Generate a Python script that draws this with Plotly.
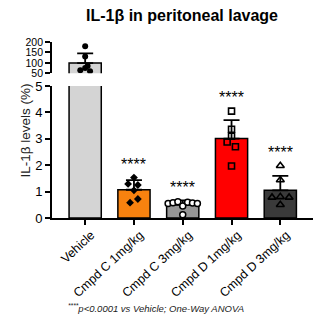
import numpy as np
import plotly.graph_objects as go

# Groups and individual measurements (IL-1β, % of vehicle)
groups = ["Vehicle", "Cmpd C 1mg/kg", "Cmpd C 3mg/kg", "Cmpd D 1mg/kg", "Cmpd D 3mg/kg"]
vehicle_pts = [180, 130, 85, 65, 60, 75]
cmpd_c1_pts = [1.53, 1.29, 1.25, 1.05, 0.58, 0.72]
cmpd_c3_pts = [0.55, 0.58, 0.62, 0.45, 0.60, 0.57, 0.55, 0.12]
cmpd_d1_pts = [4.05, 3.36, 3.10, 2.88, 2.70, 1.97]
cmpd_d3_pts = [1.98, 1.44, 0.78, 0.80, 0.78, 0.50]
signif = ["", "****", "****", "****", "****"]

points = [vehicle_pts, cmpd_c1_pts, cmpd_c3_pts, cmpd_d1_pts, cmpd_d3_pts]

# horizontal scatter of points inside each bar
jitter = [
    [0, 0, 0.05, -0.1, 0.1, 0],
    [0, -0.12, 0.08, 0, -0.08, 0.08],
    [-0.3, -0.2, -0.1, 0, 0.1, 0.2, 0.3, 0],
    [0, 0, 0, -0.09, 0.08, 0],
    [0, 0, -0.17, 0, 0.18, 0],
]
bar_colors = ["#d4d4d4", "#f7820f", "#969696", "#ff0000", "#3a3a3a"]
marker_styles = [
    dict(symbol="circle", color="black", size=6),
    dict(symbol="diamond", color="black", size=6),
    dict(symbol="circle", color="white", size=6, line=dict(color="black", width=1.5)),
    dict(symbol="square-open", color="black", size=6, line=dict(width=1.6)),
    dict(symbol="triangle-up-open", color="black", size=7, line=dict(width=1.6)),
]

means = [float(np.mean(p)) for p in points]
sds = [float(np.std(p, ddof=1)) for p in points]
xs = list(range(len(groups)))

FONT = "Liberation Sans, Arial, sans-serif"
fig = go.Figure()

for yax in ("y", "y2"):
    fig.add_trace(go.Bar(
        x=xs, y=means, width=0.66, yaxis=yax,
        marker=dict(color=bar_colors, line=dict(color="black", width=1.5)),
        showlegend=False, hoverinfo="skip",
    ))
    fig.add_trace(go.Scatter(
        x=xs, y=means, mode="markers", yaxis=yax,
        marker=dict(size=1, color="rgba(0,0,0,0)"),
        error_y=dict(type="data", array=sds, arrayminus=[0] * len(sds), symmetric=False,
                     color="black", thickness=1.8, width=8),
        showlegend=False, hoverinfo="skip",
    ))
    for i, pts in enumerate(points):
        fig.add_trace(go.Scatter(
            x=[i + j for j in jitter[i]], y=pts, mode="markers", yaxis=yax,
            marker=marker_styles[i], showlegend=False,
        ))

annotations = []
for i, s in enumerate(signif):
    if s:
        top = max(max(points[i]), means[i] + sds[i])
        annotations.append(dict(x=i, y=top + 0.5, xref="x", yref="y", text=s,
                                showarrow=False, font=dict(family=FONT, size=16, color="black")))

annotations.append(dict(x=-0.138, y=0.5, xref="paper", yref="paper", text="IL-1β levels (%)",
                        textangle=-90, showarrow=False,
                        font=dict(family=FONT, size=13.5, color="#222222")))
annotations.append(dict(x=0.398, y=-0.557, xref="paper", yref="paper",
                        text="<i><sup>****</sup>p<0.0001 vs Vehicle; One-Way ANOVA</i>",
                        showarrow=False, font=dict(family=FONT, size=9.5, color="#222222")))

axis_common = dict(showline=True, linecolor="black", linewidth=1.8, ticks="outside",
                   ticklen=5, tickwidth=1.5, tickcolor="black", showgrid=False, zeroline=False)

fig.update_layout(
    width=323, height=326,
    margin=dict(l=52, r=10, t=42, b=108),
    paper_bgcolor="white", plot_bgcolor="white",
    title=dict(text="<b>IL-1β in peritoneal lavage</b>", x=182 / 323, y=1 - 15 / 326,
               xanchor="center", yanchor="middle", font=dict(family=FONT, size=16, color="black")),
    xaxis=dict(range=[-0.68, 4.67], tickvals=xs, ticktext=groups, tickangle=-43,
               ticklabelshift=6, ticklabelstandoff=-2,
               anchor="y", tickfont=dict(family=FONT, size=12.5, color="black"), **axis_common),
    yaxis=dict(domain=[0, 0.75], range=[0, 5], tickvals=[0, 1, 2, 3, 4, 5], anchor="x",
               tickfont=dict(family=FONT, size=13, color="black"), **axis_common),
    yaxis2=dict(domain=[0.822, 1], range=[50, 200], tickvals=[50, 100, 150, 200], anchor="x",
                tickfont=dict(family=FONT, size=10.5, color="black"), **axis_common),
    annotations=annotations,
    bargap=0.3,
)

fig.write_html("out.html")
